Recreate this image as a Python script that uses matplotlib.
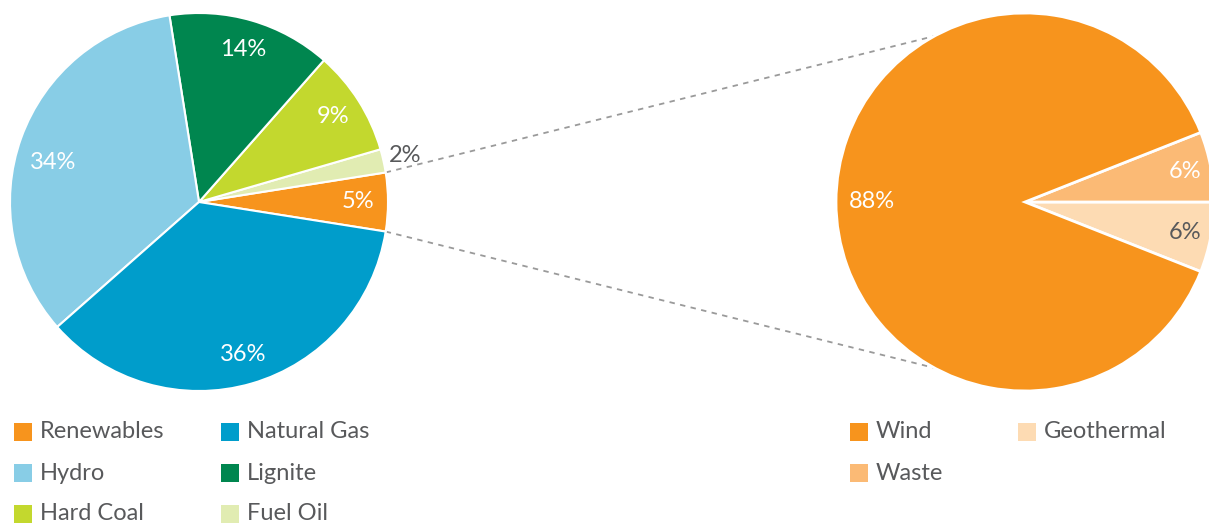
import matplotlib.pyplot as plt
from matplotlib.patches import Rectangle
import numpy as np

# Mix of electricity generation (left) and breakdown of renewables (right)
main_labels = ['Renewables', 'Fuel Oil', 'Hard Coal', 'Lignite', 'Hydro', 'Natural Gas']
main_values = [5, 2, 9, 14, 34, 36]
main_colors = ['#F7941D', '#E1ECB2', '#C3D82E', '#00864F', '#88CDE6', '#009DCB']

ren_labels = ['Geothermal', 'Waste', 'Wind']
ren_values = [6, 6, 88]
ren_colors = ['#FDDBB3', '#FBBA75', '#F7941D']

# legend order as shown in the picture (row by row)
main_legend = ['Renewables', 'Natural Gas', 'Hydro', 'Lignite', 'Hard Coal', 'Fuel Oil']
ren_legend = ['Wind', 'Geothermal', 'Waste']

plt.rcParams['font.family'] = ['Lato', 'DejaVu Sans']
TXT = '#58595B'
FS = 17

W, H = 1209, 526
fig = plt.figure(figsize=(W / 100, H / 100), dpi=100)
ax = fig.add_axes([0, 0, 1, 1])

R = 189
c1 = (199, H - 202)
c2 = (1025, H - 202)

start1 = -main_values[0] / 100 * 360 / 2
w1, t1, a1 = ax.pie(main_values, colors=main_colors, startangle=start1, center=c1, radius=R,
                    autopct='%d%%', pctdistance=0.84, counterclock=True,
                    wedgeprops=dict(edgecolor='white', linewidth=1.5),
                    textprops=dict(color='white', fontsize=FS))
start2 = -(ren_values[0] + ren_values[1]) / 100 * 360 / 2
w2, t2, a2 = ax.pie(ren_values, colors=ren_colors, startangle=start2, center=c2, radius=R,
                    autopct='%d%%', pctdistance=0.86, counterclock=True,
                    wedgeprops=dict(edgecolor='white', linewidth=2),
                    textprops=dict(color='white', fontsize=FS))

# small slice label outside
fo = main_labels.index('Fuel Oil')
mid = np.deg2rad((w1[fo].theta1 + w1[fo].theta2) / 2)
a1[fo].set_position((c1[0] + 1.12 * R * np.cos(mid), c1[1] + 1.12 * R * np.sin(mid)))
a1[fo].set_color(TXT)
hy = main_labels.index('Hydro')
mid = np.deg2rad(165)
a1[hy].set_position((c1[0] + 0.8 * R * np.cos(mid), c1[1] + 0.8 * R * np.sin(mid)))
a2[ren_labels.index('Geothermal')].set_color(TXT)
a2[ren_labels.index('Wind')].set_position((c2[0] - 0.81 * R, c2[1]))

ax.set_xlim(0, W)
ax.set_ylim(0, H)
ax.set_aspect('equal')
ax.axis('off')

# dashed connectors from the renewables slice to the right pie
rw = w1[0]
for th1, th2 in [(rw.theta2, 180 - 61.4), (rw.theta1, 180 + 61.4)]:
    p1 = (c1[0] + R * np.cos(np.deg2rad(th1)), c1[1] + R * np.sin(np.deg2rad(th1)))
    p2 = (c2[0] + R * np.cos(np.deg2rad(th2)), c2[1] + R * np.sin(np.deg2rad(th2)))
    ax.plot([p1[0], p2[0]], [p1[1], p2[1]], color='#9A9A9A', lw=1.3,
            ls=(0, (3, 3)), zorder=0)


def draw_legend(names, labels, colors, x0, colgap, y0, rowgap):
    for i, name in enumerate(names):
        col, row = i % 2, i // 2
        x = x0 + col * colgap
        y = H - (y0 + row * rowgap)
        ax.add_patch(Rectangle((x, y - 9), 18, 18, color=colors[labels.index(name)], lw=0))
        ax.text(x + 26, y, name, fontsize=FS, color=TXT, va='center', ha='left')


draw_legend(main_legend, main_labels, main_colors, 14, 207, 432, 41)
draw_legend(ren_legend, ren_labels, ren_colors, 850, 168, 432, 41)

fig.savefig('out.png', dpi=100)
